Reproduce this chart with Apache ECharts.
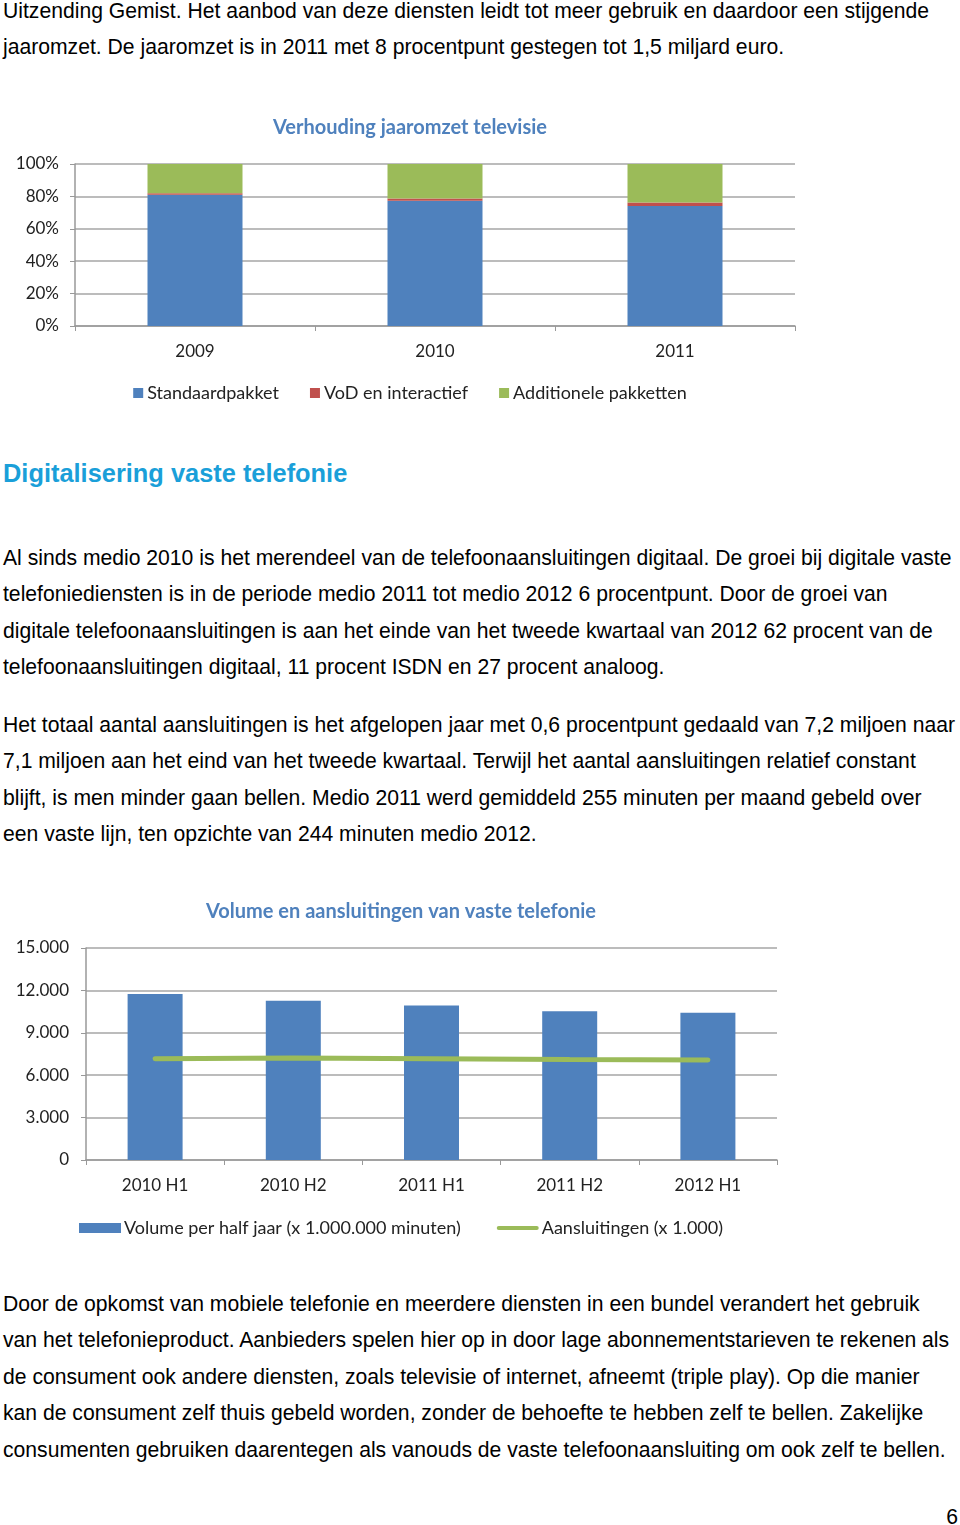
<!DOCTYPE html>
<html>
<head>
<meta charset="utf-8">
<script src="https://cdn.jsdelivr.net/npm/echarts@6/dist/echarts.min.js"></script>
<style>
  html, body { margin: 0; padding: 0; background: #fff; }
  body { width: 960px; height: 1525px; position: relative; overflow: hidden; }
  .ln { position: absolute; left: 3px; white-space: nowrap; font-family: "Liberation Sans", Arial, sans-serif; font-size: 21.15px; line-height: 24px; color: #000; }
  .h { position: absolute; left: 3px; white-space: nowrap; font-family: "Liberation Sans", Arial, sans-serif; font-weight: bold; font-size: 25.4px; line-height: 30px; color: #1a9fd9; }
  #c1 { position: absolute; left: 0; top: 100px; width: 820px; height: 320px; }
  #c2 { position: absolute; left: 0; top: 880px; width: 802px; height: 380px; }
</style>
</head>
<body>
<div id="text"></div>
<div id="c1"></div>
<div id="c2"></div>
<script>
// ---------- data ----------
const tvYears = ['2009', '2010', '2011'];
const tvStandaard = [81, 77.3, 74];
const tvVoD = [1, 1.4, 2.2];
const tvAdditioneel = [18, 21.3, 23.8];
const tvTicks = ['0%', '20%', '40%', '60%', '80%', '100%'];

const telPeriods = ['2010 H1', '2010 H2', '2011 H1', '2011 H2', '2012 H1'];
const telVolume = [11750, 11270, 10940, 10520, 10420];
const telAansluitingen = [7170, 7220, 7160, 7110, 7080];

// ---------- page text ----------
const lines = [
  [11, 'Uitzending Gemist. Het aanbod van deze diensten leidt tot meer gebruik en daardoor een stijgende'],
  [47, 'jaaromzet. De jaaromzet is in 2011 met 8 procentpunt gestegen tot 1,5 miljard euro.'],
  [558, 'Al sinds medio 2010 is het merendeel van de telefoonaansluitingen digitaal. De groei bij digitale vaste'],
  [594, 'telefoniediensten is in de periode medio 2011 tot medio 2012 6 procentpunt. Door de groei van'],
  [631, 'digitale telefoonaansluitingen is aan het einde van het tweede kwartaal van 2012 62 procent van de'],
  [667, 'telefoonaansluitingen digitaal, 11 procent ISDN en 27 procent analoog.'],
  [725, 'Het totaal aantal aansluitingen is het afgelopen jaar met 0,6 procentpunt gedaald van 7,2 miljoen naar'],
  [761, '7,1 miljoen aan het eind van het tweede kwartaal. Terwijl het aantal aansluitingen relatief constant'],
  [798, 'blijft, is men minder gaan bellen. Medio 2011 werd gemiddeld 255 minuten per maand gebeld over'],
  [834, 'een vaste lijn, ten opzichte van 244 minuten medio 2012.'],
  [1304, 'Door de opkomst van mobiele telefonie en meerdere diensten in een bundel verandert het gebruik'],
  [1340, 'van het telefonieproduct. Aanbieders spelen hier op in door lage abonnementstarieven te rekenen als'],
  [1377, 'de consument ook andere diensten, zoals televisie of internet, afneemt (triple play). Op die manier'],
  [1413, 'kan de consument zelf thuis gebeld worden, zonder de behoefte te hebben zelf te bellen. Zakelijke'],
  [1450, 'consumenten gebruiken daarentegen als vanouds de vaste telefoonaansluiting om ook zelf te bellen.']
];
const tc = document.getElementById('text');
lines.forEach(([y, t]) => {
  const d = document.createElement('div');
  d.className = 'ln';
  d.style.top = (y - 12) + 'px';
  d.textContent = t;
  tc.appendChild(d);
});
const h = document.createElement('div');
h.className = 'h';
h.style.top = (473 - 15) + 'px';
h.textContent = 'Digitalisering vaste telefonie';
tc.appendChild(h);
const pn = document.createElement('div');
pn.className = 'ln';
pn.style.left = 'auto';
pn.style.right = '2px';
pn.style.top = (1517 - 12) + 'px';
pn.textContent = '6';
tc.appendChild(pn);

// ---------- charts ----------
const FONT = 'Lato, "Open Sans", sans-serif';
const BLUE = '#4f81bd', RED = '#c0504d', GREEN = '#9bbb59';
const GRID = '#a6a6a6';

const c1 = echarts.init(document.getElementById('c1'), null, { renderer: 'canvas' });
c1.setOption({
  animation: false,
  title: {
    text: 'Verhouding jaaromzet televisie', left: 'center', top: 13,
    textStyle: { fontFamily: FONT, fontSize: 20, fontWeight: 'bold', color: BLUE }
  },
  legend: {
    top: 279, left: 'center', itemWidth: 10, itemHeight: 10, itemGap: 31,
    icon: 'rect',
    textStyle: { fontFamily: FONT, fontSize: 18, color: '#222', padding: [0, 0, 0, -1] },
    data: ['Standaardpakket', 'VoD en interactief', 'Additionele pakketten']
  },
  grid: { left: 75, right: 25, top: 64, bottom: 94 },
  xAxis: {
    type: 'category', data: tvYears,
    axisLine: { lineStyle: { color: '#999', width: 1.5 } },
    axisTick: { show: true, length: 5, lineStyle: { color: '#999' } },
    axisLabel: { fontFamily: FONT, fontSize: 17, color: '#222', margin: 17 }
  },
  yAxis: {
    type: 'value', min: 0, max: 100, interval: 20,
    axisLine: { show: true, lineStyle: { color: '#999', width: 1.5 } },
    axisTick: { show: true, length: 5, lineStyle: { color: '#999' } },
    splitLine: { lineStyle: { color: GRID, width: 1.5 } },
    axisLabel: { fontFamily: FONT, fontSize: 17, color: '#222', margin: 16,
      formatter: (v) => tvTicks[Math.round(v / 20)] }
  },
  series: [
    { name: 'Standaardpakket', type: 'bar', stack: 'tv', data: tvStandaard, barWidth: 95, itemStyle: { color: BLUE } },
    { name: 'VoD en interactief', type: 'bar', stack: 'tv', data: tvVoD, itemStyle: { color: RED } },
    { name: 'Additionele pakketten', type: 'bar', stack: 'tv', data: tvAdditioneel, itemStyle: { color: GREEN } }
  ]
});

const c2 = echarts.init(document.getElementById('c2'), null, { renderer: 'canvas' });
c2.setOption({
  animation: false,
  title: {
    text: 'Volume en aansluitingen van vaste telefonie', left: 'center', top: 17,
    textStyle: { fontFamily: FONT, fontSize: 20, fontWeight: 'bold', color: BLUE }
  },
  legend: {
    top: 334, left: 'center', itemWidth: 42, itemHeight: 10, itemGap: 36,
    textStyle: { fontFamily: FONT, fontSize: 18, color: '#222', padding: [0, 0, 0, -2] },
    data: [
      { name: 'Volume per half jaar (x 1.000.000 minuten)', icon: 'rect' },
      { name: 'Aansluitingen (x 1.000)', icon: 'path://M2,0 H40 A2,2 0 0 1 40,4 H2 A2,2 0 0 1 2,0 Z' }
    ]
  },
  grid: { left: 86, right: 25, top: 68, bottom: 100 },
  xAxis: {
    type: 'category', data: telPeriods,
    axisLine: { lineStyle: { color: '#999', width: 1.5 } },
    axisTick: { show: true, length: 5, lineStyle: { color: '#999' } },
    axisLabel: { fontFamily: FONT, fontSize: 17, color: '#222', margin: 17 }
  },
  yAxis: {
    type: 'value', min: 0, max: 15000, interval: 3000,
    axisLine: { show: true, lineStyle: { color: '#999', width: 1.5 } },
    axisTick: { show: true, length: 5, lineStyle: { color: '#999' } },
    splitLine: { lineStyle: { color: GRID, width: 1.5 } },
    axisLabel: { fontFamily: FONT, fontSize: 17, color: '#222', margin: 17,
      formatter: (v) => v === 0 ? '0' : (v / 1000).toFixed(0) + '.000' }
  },
  series: [
    { name: 'Volume per half jaar (x 1.000.000 minuten)', type: 'bar', data: telVolume, barWidth: 55, itemStyle: { color: BLUE } },
    { name: 'Aansluitingen (x 1.000)', type: 'line', data: telAansluitingen, symbol: 'none',
      lineStyle: { color: GREEN, width: 5, cap: 'round' }, itemStyle: { color: GREEN } }
  ]
});
</script>
</body>
</html>
